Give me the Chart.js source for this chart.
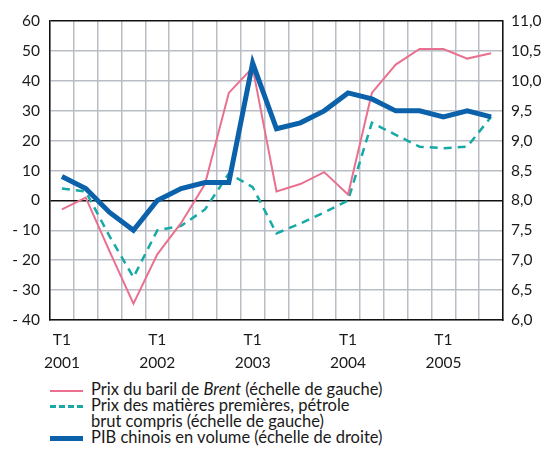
<!DOCTYPE html>
<html>
<head>
<meta charset="utf-8">
<script src="https://cdn.jsdelivr.net/npm/chart.js@4.4.1/dist/chart.umd.min.js"></script>
<style>
  body { margin: 0; background: #fff; }
  #wrap { position: relative; width: 545px; height: 452px; }
  #box { position: absolute; left: 0; top: 0; width: 545px; height: 368px; }
  #legend { position: absolute; left: 50px; top: 381px; font-family: Lato, sans-serif; font-size: 16.5px; line-height: 16px; color: #1a1a1a; }
  .row { position: relative; padding-left: 41px; white-space: nowrap; }
  .sw { position: absolute; left: 0; top: 8px; width: 33px; }
</style>
</head>
<body>
<div id="wrap">
  <div id="box"><canvas id="myChart"></canvas></div>
  <div id="legend"></div>
</div>
<script>
const years = ['2001','2002','2003','2004','2005'];
const quarters = ['T1','T2','T3','T4'];
// 2001 T1 -> 2005 T3
const nbQuarters = 19;
const brent = [-3, 1, -17, -34.5, -18, -7.5, 5.5, 36, 44.5, 3, 5.5, 9.5, 2, 36, 45.5, 50.7, 50.7, 47.5, 49.3];
const matieres = [4, 3, -12, -25.7, -10, -8.5, -3, 9, 4.5, -11, -7.7, -4, 0, 26, 22, 18, 17.5, 18, 28];
const pibChine = [8.4, 8.2, 7.8, 7.5, 8.0, 8.2, 8.3, 8.3, 10.3, 9.2, 9.3, 9.5, 9.8, 9.7, 9.5, 9.5, 9.4, 9.5, 9.4];

let labels = [];
for (let i = 0; i < nbQuarters; i++) {
  labels.push(quarters[i % 4] + ' ' + years[Math.floor(i / 4)]);
}

const pink = '#e9718f';
const teal = '#16a9a6';
const blue = '#0b62ab';
const grey = '#b9bdc5';
const fontTicks = { family: 'Lato, sans-serif', size: 15.5, lineHeight: 1.45 };

const ctx = document.getElementById('myChart').getContext('2d');
const myChart = new Chart(ctx, {
  type: 'line',
  data: {
    labels: labels,
    datasets: [{
        data: pibChine,
        label: 'PIB chinois en volume (échelle de droite)',
        borderColor: blue,
        borderWidth: 5,
        yAxisID: 'y2',
        fill: false
      }, {
        data: brent,
        label: 'Prix du baril de Brent (échelle de gauche)',
        borderColor: pink,
        borderWidth: 2,
        yAxisID: 'y',
        fill: false
      }, {
        data: matieres,
        label: 'Prix des matières premières, pétrole brut compris (échelle de gauche)',
        borderColor: teal,
        borderWidth: 2.5,
        borderDash: [8, 6],
        yAxisID: 'y',
        fill: false
      }
    ]
  },
  options: {
    responsive: true,
    maintainAspectRatio: false,
    animation: false,
    layout: { padding: { top: 18, left: 0, right: 0, bottom: 0 } },
    elements: { point: { radius: 0 }, line: { tension: 0 } },
    plugins: { legend: { display: false }, tooltip: { enabled: false } },
    scales: {
      x: {
        offset: true,
        grid: { offset: true, color: grey, lineWidth: 1.5, drawTicks: false },
        border: { display: true, color: '#111', width: 1.5 },
        afterFit: function (s) { s.height = 48; },
        ticks: {
          autoSkip: false, maxRotation: 0, padding: 9, color: '#1a1a1a', font: fontTicks,
          callback: function (v, i) {
            return i % 4 === 0 ? ['T1', years[i / 4]] : '';
          }
        }
      },
      y: {
        position: 'left',
        min: -40, max: 60,
        afterFit: function (s) { s.width = 50; },
        grid: {
          lineWidth: 1.5, drawTicks: false,
          color: function (c) { return (c.tick.value === 0 || c.tick.value === 60) ? '#111' : grey; }
        },
        border: { display: true, color: '#111', width: 1.5 },
        ticks: {
          stepSize: 10, padding: 10, color: '#1a1a1a', font: fontTicks,
          callback: function (v) { return v < 0 ? '- ' + (-v) : String(v); }
        }
      },
      y2: {
        position: 'right',
        min: 6, max: 11,
        afterFit: function (s) { s.width = 42; },
        grid: { display: false, drawTicks: false },
        border: { display: true, color: '#111', width: 1.5 },
        ticks: {
          stepSize: 0.5, padding: 8, color: '#1a1a1a', font: fontTicks,
          callback: function (v) { return v.toFixed(1).replace('.', ','); }
        }
      }
    }
  }
});

// legend written as html (italic Brent, wrapped line)
const legendRows = [
  { html: 'Prix du baril de <i>Brent</i> (échelle de gauche)', line: '2px solid ' + pink },
  { html: 'Prix des matières premières, pétrole<br>brut compris (échelle de gauche)', line: '3px dashed ' + teal },
  { html: 'PIB chinois en volume (échelle de droite)', line: '5px solid ' + blue }
];
const leg = document.getElementById('legend');
legendRows.forEach(function (r) {
  const d = document.createElement('div');
  d.className = 'row';
  const off = r.line.startsWith('5px') ? 7 : (r.line.startsWith('3px') ? 8 : 9);
  d.innerHTML = '<span class="sw" style="border-top:' + r.line + ';top:' + off + 'px"></span>' + r.html;
  leg.appendChild(d);
});
</script>
</body>
</html>
